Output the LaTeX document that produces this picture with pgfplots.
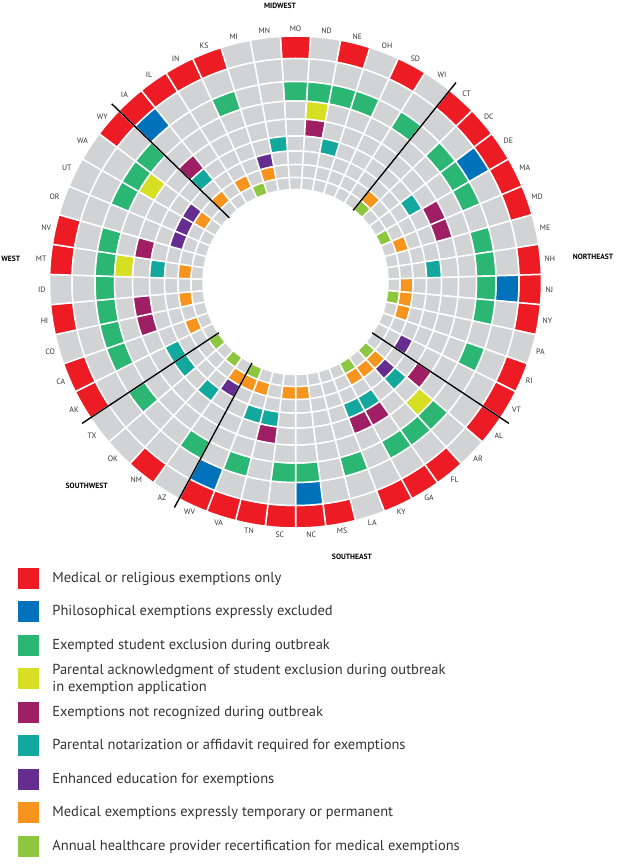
\documentclass[border=0pt]{standalone}
\usepackage{fontspec}
\setmainfont{PT Sans}
\usepackage{pgfplots}
\usepackage{pgfplotstable}
\pgfplotsset{compat=1.18}

\definecolor{cR}{HTML}{ED1C24}
\definecolor{cB}{HTML}{0072BC}
\definecolor{cG}{HTML}{2BB673}
\definecolor{cY}{HTML}{D7DF23}
\definecolor{cM}{HTML}{9E1F63}
\definecolor{cT}{HTML}{12A89D}
\definecolor{cP}{HTML}{662D91}
\definecolor{cO}{HTML}{F7941D}
\definecolor{cL}{HTML}{8DC63F}
\definecolor{cX}{HTML}{D1D3D4}
\definecolor{txt}{HTML}{333333}

% state order clockwise from top; rings c0 (outer) ... c8 (inner)
\pgfplotstableread{
j st c0 c1 c2 c3 c4 c5 c6 c7 c8
0 MO 1 0 1 0 0 0 0 0 0
1 ND 0 0 1 1 1 0 0 0 0
2 NE 1 0 1 0 0 1 0 0 0
3 OH 0 0 1 0 0 0 0 0 0
4 SD 1 0 0 0 0 0 0 0 0
5 WI 0 0 1 0 0 0 0 0 0
6 CT 1 0 0 0 0 0 0 1 1
7 DC 1 0 1 0 0 0 0 0 0
8 DE 1 1 1 0 0 1 0 0 0
9 MA 1 0 1 0 1 0 0 0 1
10 MD 1 0 0 0 1 0 0 1 0
11 ME 0 0 1 0 0 0 0 0 0
12 NH 1 0 1 0 0 1 0 0 0
13 NJ 1 1 1 0 0 0 0 1 0
14 NY 1 0 1 0 0 0 0 1 1
15 PA 0 0 0 0 0 0 0 1 0
16 RI 1 0 1 0 0 0 0 0 0
17 VT 1 0 0 0 0 0 1 0 0
18 AL 1 0 0 0 1 0 0 0 0
19 AR 0 0 1 1 0 1 1 1 1
20 FL 1 0 1 0 0 0 0 1 0
21 GA 1 0 1 0 1 1 0 1 1
22 KY 1 0 0 0 1 1 0 0 0
23 LA 0 0 1 0 0 0 0 0 0
24 MS 1 0 0 0 0 0 0 0 0
25 NC 1 1 1 0 0 0 0 1 0
26 SC 1 0 1 0 0 0 0 1 0
27 TN 1 0 0 0 1 1 0 0 0
28 VA 1 0 1 0 0 1 0 1 0
29 WV 1 1 0 0 0 0 0 1 1
30 AZ 0 0 1 0 0 0 1 1 0
31 NM 1 0 0 0 0 1 0 0 1
32 OK 0 0 0 0 0 0 0 0 0
33 TX 0 0 1 0 0 1 0 0 1
34 AK 1 0 0 0 0 1 0 0 0
35 CA 1 0 1 0 0 0 0 1 0
36 CO 0 0 1 0 1 0 0 0 0
37 HI 1 0 1 0 1 0 0 1 0
38 ID 0 0 1 0 0 0 0 0 0
39 MT 1 0 1 1 0 1 0 1 0
40 NV 1 0 1 0 1 0 0 0 0
41 OR 0 0 0 0 0 0 1 0 0
42 UT 0 0 1 0 0 0 1 0 0
43 WA 0 0 1 1 0 0 1 1 0
44 WY 1 0 1 0 0 0 0 0 0
45 IA 1 1 0 0 1 1 0 1 0
46 IL 1 0 0 0 0 0 0 0 0
47 IN 1 0 0 0 0 0 0 1 0
48 KS 1 0 1 0 0 0 0 0 1
49 MI 0 0 0 0 0 0 1 1 0
50 MN 0 0 0 0 0 1 0 0 0
}\flags

\expandafter\def\csname rc0\endcsname{cR}
\expandafter\def\csname rc1\endcsname{cB}
\expandafter\def\csname rc2\endcsname{cG}
\expandafter\def\csname rc3\endcsname{cY}
\expandafter\def\csname rc4\endcsname{cM}
\expandafter\def\csname rc5\endcsname{cT}
\expandafter\def\csname rc6\endcsname{cP}
\expandafter\def\csname rc7\endcsname{cO}
\expandafter\def\csname rc8\endcsname{cL}
\expandafter\def\csname rad0\endcsname{246}
\expandafter\def\csname rad1\endcsname{223.5}
\expandafter\def\csname rad2\endcsname{200.5}
\expandafter\def\csname rad3\endcsname{181}
\expandafter\def\csname rad4\endcsname{163}
\expandafter\def\csname rad5\endcsname{146}
\expandafter\def\csname rad6\endcsname{131}
\expandafter\def\csname rad7\endcsname{117.5}
\expandafter\def\csname rad8\endcsname{104.5}
\expandafter\def\csname rad9\endcsname{92.5}

\def\cx{295.5}
\def\cy{-282}

\newcommand\addpt[2]{%
  \pgfmathsetmacro\px{\cx+#2*cos(#1)}%
  \pgfmathsetmacro\py{\cy+#2*sin(#1)}%
  \xdef\pts{\pts(\px,\py)}}

\newcommand\cell[1]{%
  \pgfplotstablegetelem{\j}{c#1}\of\flags
  \ifnum\pgfplotsretval=1 \edef\cc{\csname rc#1\endcsname}\else\def\cc{cX}\fi
  \edef\ro{\csname rad#1\endcsname}%
  \pgfmathtruncatemacro\kk{#1+1}%
  \edef\ri{\csname rad\kk\endcsname}%
  \gdef\pts{}%
  \addpt\aA\ro\addpt\aB\ro\addpt\aC\ro\addpt\aD\ro\addpt\aE\ro
  \addpt\aE\ri\addpt\aD\ri\addpt\aC\ri\addpt\aB\ri\addpt\aA\ri
  \edef\cmd{\noexpand\addplot[cellstyle, fill=\cc] coordinates {\pts} -- cycle;}\cmd
}

\pgfplotsset{cellstyle/.style={draw=white, line width=1.5pt, line join=miter, forget plot}}
\tikzset{statelabel/.style={font=\fontsize{7.8}{9}\selectfont, text=txt, inner sep=0pt},
         regionlabel/.style={font=\bfseries\fontsize{7.6}{9}\selectfont, text=black, inner sep=0pt}}

\begin{document}
\begin{tikzpicture}
\useasboundingbox (0pt,0pt) rectangle (620pt,865pt);
\begin{axis}[at={(0pt,0pt)}, anchor=south west, scale only axis,
  width=620pt, height=865pt, xmin=0, xmax=620, ymin=-865, ymax=0,
  hide axis, clip=false,
  legend cell align=left,
  legend style={at={(0.02903,0.35116)}, anchor=north west, draw=none, fill=none,
    inner sep=0pt, outer sep=0pt, row sep=0pt, column sep=14pt,
    font=\fontsize{14.5}{17}\selectfont, text=txt,
    nodes={inner sep=0pt, minimum height=33.5pt, align=left}},
]
\pgfplotsforeachungrouped \j in {0,...,50}{%
  \pgfplotstablegetelem{\j}{st}\of\flags\edef\st{\pgfplotsretval}%
  \pgfmathsetmacro\aA{90-(\j-0.5)*7.058823529}%
  \pgfmathsetmacro\aB{\aA-1.764705882}%
  \pgfmathsetmacro\aC{\aA-3.529411765}%
  \pgfmathsetmacro\aD{\aA-5.294117647}%
  \pgfmathsetmacro\aE{\aA-7.058823529}%
  \cell{0}\cell{1}\cell{2}\cell{3}\cell{4}\cell{5}\cell{6}\cell{7}\cell{8}%
  \pgfmathsetmacro\lx{\cx+250*cos(\aC)}%
  \pgfmathsetmacro\ly{\cy+250*sin(\aC)}%
  \pgfmathtruncatemacro\lanc{mod(round(\aC+180+1080),360)}%
  \edef\cmd{\noexpand\node[statelabel, anchor=\lanc] at (axis cs:\lx,\ly) {\st};}\cmd
}
% region dividers
\pgfplotsinvokeforeach{6,18,30,34,45}{%
  \pgfmathsetmacro\ang{90-(#1-0.5)*7.058823529}%
  \pgfmathsetmacro\xa{\cx+92*cos(\ang)}%
  \pgfmathsetmacro\ya{\cy+92*sin(\ang)}%
  \pgfmathsetmacro\xb{\cx+256*cos(\ang)}%
  \pgfmathsetmacro\yb{\cy+256*sin(\ang)}%
  \edef\cmd{\noexpand\addplot[black, line width=1.4pt, forget plot] coordinates {(\xa,\ya) (\xb,\yb)};}\cmd
}
\node[regionlabel] at (axis cs:280,-6) {MIDWEST};
\node[regionlabel] at (axis cs:593,-257) {NORTHEAST};
\node[regionlabel, anchor=east] at (axis cs:20.5,-259) {WEST};
\node[regionlabel] at (axis cs:86.7,-486) {SOUTHWEST};
\node[regionlabel] at (axis cs:352,-557) {SOUTHEAST};

\addlegendimage{legend image code/.code={\fill[cR] (0pt,-10pt) rectangle (20pt,10pt);}}
\addlegendentry{Medical or religious exemptions only}
\addlegendimage{legend image code/.code={\fill[cB] (0pt,-10pt) rectangle (20pt,10pt);}}
\addlegendentry{Philosophical exemptions expressly excluded}
\addlegendimage{legend image code/.code={\fill[cG] (0pt,-10pt) rectangle (20pt,10pt);}}
\addlegendentry{Exempted student exclusion during outbreak}
\addlegendimage{legend image code/.code={\fill[cY] (0pt,-10pt) rectangle (20pt,10pt);}}
\addlegendentry{Parental acknowledgment of student exclusion during outbreak\\in exemption application}
\addlegendimage{legend image code/.code={\fill[cM] (0pt,-10pt) rectangle (20pt,10pt);}}
\addlegendentry{Exemptions not recognized during outbreak}
\addlegendimage{legend image code/.code={\fill[cT] (0pt,-10pt) rectangle (20pt,10pt);}}
\addlegendentry{Parental notarization or affidavit required for exemptions}
\addlegendimage{legend image code/.code={\fill[cP] (0pt,-10pt) rectangle (20pt,10pt);}}
\addlegendentry{Enhanced education for exemptions}
\addlegendimage{legend image code/.code={\fill[cO] (0pt,-10pt) rectangle (20pt,10pt);}}
\addlegendentry{Medical exemptions expressly temporary or permanent}
\addlegendimage{legend image code/.code={\fill[cL] (0pt,-10pt) rectangle (20pt,10pt);}}
\addlegendentry{Annual healthcare provider recertification for medical exemptions}
\end{axis}
\end{tikzpicture}
\end{document}
